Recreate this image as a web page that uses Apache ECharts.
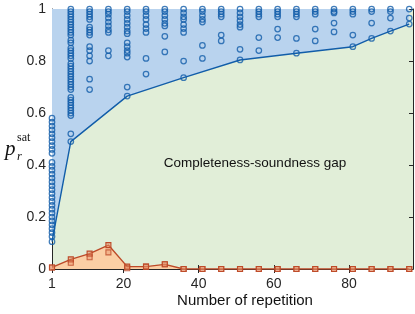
<!DOCTYPE html>
<html><head><meta charset="utf-8">
<script src="https://cdn.jsdelivr.net/npm/echarts@6/dist/echarts.min.js"></script>
<style>html,body{margin:0;padding:0;background:#fff}#c{width:415px;height:314px}</style>
</head><body><div id="c"></div>
<script>
var repetitions = [1,6,11,16,21,26,31,36,41,46,51,56,61,66,71,76,81,86,91,96];
var xTicks = [1,20,40,60,80];
var yTicks = [0,0.2,0.4,0.6,0.8,1];
var satColumns = [
  [0.58,0.565,0.55,0.535,0.52,0.505,0.49,0.475,0.46,0.445,0.41,0.395,0.38,0.365,0.35,0.335,0.32,0.305,0.29,0.275,0.26,0.245,0.23,0.215,0.2,0.185,0.17,0.155,0.14,0.125,0.105],
  [1.0,0.99,0.98,0.97,0.96,0.95,0.94,0.93,0.92,0.91,0.90,0.88,0.87,0.85,0.84,0.83,0.82,0.81,0.79,0.78,0.77,0.76,0.75,0.74,0.73,0.72,0.71,0.70,0.69,0.66,0.65,0.64,0.63,0.62,0.61,0.60,0.59,0.52,0.49],
  [1.0,0.99,0.98,0.97,0.96,0.93,0.92,0.91,0.90,0.855,0.84,0.82,0.80,0.73,0.69],
  [1.0,0.99,0.98,0.965,0.95,0.935,0.92,0.91,0.84,0.82],
  [1.0,0.99,0.975,0.96,0.945,0.93,0.915,0.905,0.87,0.855,0.84,0.83,0.815,0.70,0.665],
  [1.0,0.99,0.975,0.96,0.94,0.925,0.91,0.81,0.75],
  [1.0,0.99,0.975,0.96,0.945,0.935,0.895,0.835],
  [1.0,0.985,0.97,0.96,0.94,0.925,0.91,0.80,0.736],
  [1.0,0.99,0.975,0.96,0.95,0.86,0.81],
  [1.0,0.99,0.98,0.97,0.90,0.877],
  [1.0,0.985,0.97,0.955,0.94,0.93,0.845,0.804],
  [1.0,0.99,0.98,0.97,0.89,0.84],
  [1.0,0.99,0.98,0.97,0.923,0.89],
  [1.0,0.99,0.98,0.97,0.887,0.83],
  [1.0,0.99,0.98,0.923,0.877],
  [1.0,0.99,0.985,0.946,0.912],
  [1.0,0.99,0.98,0.90,0.855],
  [1.0,0.99,0.946,0.887],
  [1.0,0.99,0.965,0.915],
  [1.0,0.965,0.942]
];
var hullX = [1,6,21,36,51,66,81,86,91,96];
var hullY = [0.105,0.49,0.665,0.736,0.804,0.83,0.855,0.887,0.915,0.942];
var soundY  = [0.006,0.037,0.059,0.092,0.009,0.009,0.018,0,0,0,0,0,0,0,0,0,0,0,0,0];
var soundY2 = [0.006,0.024,0.045,0.064,0.003,0.009,0.018,0,0,0,0,0,0,0,0,0,0,0,0,0];

var blue = '#115da9', orange = '#bd4a28';
var scatterData = [];
satColumns.forEach(function(col, i){ col.forEach(function(v){ scatterData.push([repetitions[i], v]); }); });
var hullData = hullX.map(function(x,i){ return [x, hullY[i]]; });
var soundData = repetitions.map(function(x,i){ return [x, soundY[i]]; });
var soundData2 = repetitions.map(function(x,i){ return [x, soundY2[i]]; });

var axisColor = '#262626';
var chart = echarts.init(document.getElementById('c'), null, {renderer:'canvas'});
chart.setOption({
  animation: false,
  backgroundColor: '#fff',
  grid: {left: 52, right: 2, top: 9, bottom: 45, show: true, backgroundColor: '#e1eed8', borderWidth: 0},
  xAxis: [{
    type: 'value', min: 1, max: 97,
    axisLine: {lineStyle: {color: axisColor, width: 1}},
    axisTick: {inside: true, length: 4, lineStyle: {color: axisColor}, customValues: xTicks},
    axisLabel: {customValues: xTicks, color: axisColor, fontSize: 14, fontFamily: 'Liberation Sans, Arial', margin: 8},
    splitLine: {show: false}
  },{
    type: 'value', min: 1, max: 97, position: 'top',
    axisLine: {show: true, lineStyle: {color: axisColor}},
    axisTick: {inside: true, length: 4, lineStyle: {color: axisColor}, customValues: xTicks},
    axisLabel: {show: false}, splitLine: {show: false}
  }],
  yAxis: [{
    type: 'value', min: 0, max: 1, interval: 0.2,
    axisLine: {show: true, lineStyle: {color: axisColor}},
    axisTick: {show: true, inside: true, length: 4, lineStyle: {color: axisColor}},
    axisLabel: {color: axisColor, fontSize: 14, fontFamily: 'Liberation Sans, Arial', margin: 6,
      formatter: function(v){ return String(Math.round(v*10)/10); }},
    splitLine: {show: false}
  },{
    type: 'value', min: 0, max: 1, interval: 0.2, position: 'right',
    axisLine: {show: true, lineStyle: {color: axisColor}},
    axisTick: {show: true, inside: true, length: 4, lineStyle: {color: axisColor}},
    axisLabel: {show: false}, splitLine: {show: false}
  }],
  series: [
    {type: 'line', data: hullData, symbol: 'none', z: 2,
     lineStyle: {color: blue, width: 1.4},
     areaStyle: {origin: 'end', color: '#b9d3ee', opacity: 1}},
    {type: 'line', data: soundData, symbol: 'rect', symbolSize: 5, showSymbol: true, z: 3,
     lineStyle: {color: orange, width: 1.4},
     itemStyle: {color: 'rgba(230,140,100,0.5)', borderColor: orange, borderWidth: 1.1},
     areaStyle: {origin: 'start', color: '#fbcfa5', opacity: 1}},
    {type: 'scatter', data: soundData2, symbol: 'rect', symbolSize: 5, z: 4,
     itemStyle: {color: 'rgba(230,140,100,0.5)', borderColor: orange, borderWidth: 1.1}},
    {type: 'scatter', data: scatterData, symbol: 'circle', symbolSize: 5.5, z: 5, clip: false,
     itemStyle: {color: 'rgba(0,0,0,0)', borderColor: blue, borderWidth: 1.25}}
  ],
  graphic: [
    {type: 'text', x: 255, y: 163, style: {text: 'Completeness-soundness gap', font: '13.5px "Liberation Sans", Arial', fill: '#111', align: 'center', verticalAlign: 'middle'}},
    {type: 'text', x: 245, y: 301, style: {text: 'Number of repetition', font: '15px "Liberation Sans", Arial', fill: '#111', align: 'center', verticalAlign: 'middle'}},
    {type: 'text', x: 5, y: 139, style: {text: 'p', font: 'italic 21px "Liberation Serif", "Times New Roman", serif', fill: '#111'}},
    {type: 'text', x: 17, y: 132, style: {text: 'sat', font: '12px "Liberation Serif", "Times New Roman", serif', fill: '#111'}},
    {type: 'text', x: 17, y: 150, style: {text: 'r', font: 'italic 12.5px "Liberation Serif", "Times New Roman", serif', fill: '#111'}}
  ]
});
</script></body></html>
